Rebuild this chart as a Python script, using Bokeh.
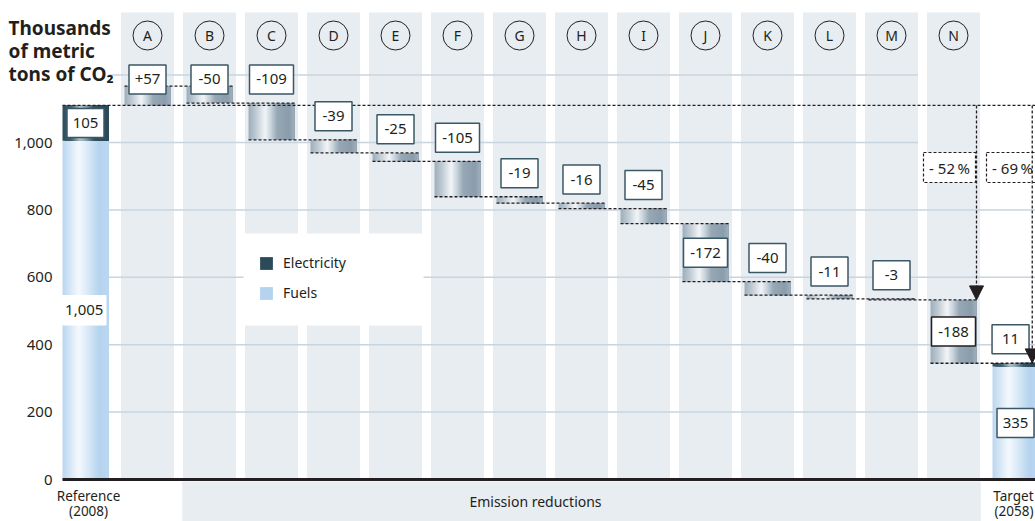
import numpy as np
from bokeh.plotting import figure
from bokeh.models import (Range1d, ColumnDataSource, Arrow, NormalHead,
                          Legend, LegendItem)
from bokeh.core.properties import value
from bokeh.embed import file_html
from bokeh.resources import INLINE

# ---- data: thousands of metric tons of CO2 ----
ref_electricity = 105
ref_fuels = 1005
step_names = ["A", "B", "C", "D", "E", "F", "G", "H", "I", "J", "K", "L", "M", "N"]
step_values = [57, -50, -109, -39, -25, -105, -19, -16, -45, -172, -40, -11, -3, -188]
target_electricity = 11
target_fuels = 335
y_ticks = [0, 200, 400, 600, 800, 1000]
grid_levels = [200, 400, 600, 800, 1000, 1200]
ref_caption = ["Reference", "(2008)"]
target_caption = ["Target", "(2058)"]
band_caption = "Emission reductions"
legend_names = ["Electricity", "Fuels"]

# ---- layout / style ----
W, H = 1035, 521
COL_PX = 62.0          # pixels per column
X0_PX = 85.0           # pixel centre of the reference column
Y0_PX = 479.0          # pixel of the zero line
PX_PER_UNIT = 0.337
FONT = value("Noto Sans")
INK = "#231f20"
COL_BG = "#e8edf2"
GRID = "#c8d4df"
BOX_LINE = "#3a5766"
BAR_W = 46 / COL_PX
COL_W = 53 / COL_PX


def px_x(px):
    return (px - X0_PX) / COL_PX


def px_y(py):
    return (Y0_PX - py) / PX_PER_UNIT


p = figure(width=W, height=H, output_backend="svg", toolbar_location=None,
           x_range=Range1d(px_x(0), px_x(W)), y_range=Range1d(px_y(H), px_y(0)),
           x_axis_location=None, y_axis_location=None, min_border=0,
           outline_line_color=None, background_fill_color="white",
           border_fill_color="white")
p.grid.visible = False

# ---- derived values ----
ref_total = ref_electricity + ref_fuels
levels = [ref_total]
for v in step_values:
    levels.append(levels[-1] + v)
starts, ends = levels[:-1], levels[1:]
n_steps = len(step_values)
step_x = list(range(1, n_steps + 1))
target_x = n_steps + 1
target_total = target_fuels + target_electricity

# ---- column backgrounds ----
col_top = px_y(12)
p.quad(left=[x - COL_W / 2 for x in step_x], right=[x + COL_W / 2 for x in step_x],
       bottom=0, top=col_top, fill_color=COL_BG, line_color=None)

# band under the axis for the reduction steps
p.quad(left=[step_x[1] - 0.44], right=[step_x[-1] + 0.44], bottom=[px_y(H + 5)],
       top=[px_y(481)], fill_color=COL_BG, line_color=None)

# ---- grid lines ----
grid_x0 = BAR_W / 2
grid_x1 = [px_x(W + 5) if g <= 800 else step_x[-2] + COL_W / 2 for g in grid_levels]
p.segment(x0=[grid_x0] * len(grid_levels), x1=grid_x1, y0=grid_levels, y1=grid_levels,
          line_color=GRID, line_width=1.5)

# white patch behind the legend
p.quad(left=[px_x(243)], right=[px_x(423)], bottom=[px_y(325)], top=[px_y(233)],
       fill_color="white", line_color=None)


# ---- bars with a horizontal shading, built from overlapping strips ----
def hex_to_rgb(h):
    h = h.lstrip("#")
    return np.array([int(h[i:i + 2], 16) for i in (0, 2, 4)], dtype=float)


def shade(stops, t):
    pos = [s[0] for s in stops]
    cols = np.array([hex_to_rgb(s[1]) for s in stops])
    rgb = [np.interp(t, pos, cols[:, k]) for k in range(3)]
    return "#%02x%02x%02x" % tuple(int(round(c)) for c in rgb)


STEP_STOPS = [(0.0, "#9cadb9"), (0.18, "#c3ced6"), (0.36, "#f3f6f8"), (0.5, "#c4cfd7"),
              (0.62, "#97a9b6"), (0.88, "#8a9cab"), (1.0, "#a0b0bc")]
FUEL_STOPS = [(0.0, "#b9d6ef"), (0.35, "#f5f9fd"), (0.6, "#d2e5f5"), (0.8, "#b4d3ee"),
              (1.0, "#bad7f0")]
ELEC_STOPS = [(0.0, "#2d4d5d"), (0.2, "#44636f"), (0.38, "#b3c3cc"), (0.5, "#8aa0ab"),
              (0.68, "#33525f"), (1.0, "#2a4959")]
N_STRIPS = 23


def new_strips():
    return dict(left=[], right=[], bottom=[], top=[], color=[])


def add_bar(store, cx, bottom, top, stops):
    # each strip runs to the bar's right edge; later strips paint over earlier ones
    right = cx + BAR_W / 2
    for k in range(N_STRIPS):
        store["left"].append(cx - BAR_W / 2 + k * BAR_W / N_STRIPS)
        store["right"].append(right)
        store["bottom"].append(bottom)
        store["top"].append(top)
        store["color"].append(shade(stops, (k + 0.5) / N_STRIPS))


fuel_strips, elec_strips, step_strips = new_strips(), new_strips(), new_strips()
add_bar(fuel_strips, 0, 0, ref_fuels, FUEL_STOPS)
add_bar(fuel_strips, target_x, 0, target_fuels, FUEL_STOPS)
add_bar(elec_strips, 0, ref_fuels, ref_total, ELEC_STOPS)
add_bar(elec_strips, target_x, target_fuels, target_total, ELEC_STOPS)
for x, s, e in zip(step_x, starts, ends):
    add_bar(step_strips, x, min(s, e), max(s, e), STEP_STOPS)

bar_kw = dict(left="left", right="right", bottom="bottom", top="top",
              fill_color="color", line_color=None)
r_fuel = p.quad(source=ColumnDataSource(fuel_strips), **bar_kw)
r_elec = p.quad(source=ColumnDataSource(elec_strips), **bar_kw)
p.quad(source=ColumnDataSource(step_strips), **bar_kw)

# ---- dashed connectors ----
con_x0 = [-BAR_W / 2] + [x - BAR_W / 2 for x in step_x]
con_x1 = [px_x(W + 5)] + [x + 1 + BAR_W / 2 for x in step_x]
con_y = [ref_total] + ends
p.segment(x0=con_x0, x1=con_x1, y0=con_y, y1=con_y, line_color=INK,
          line_width=1.3, line_dash="3 2")

# ---- zero line ----
p.segment(x0=[-BAR_W / 2], x1=[px_x(W + 5)], y0=[0], y1=[0], line_color=INK, line_width=3)

# ---- arrows to the intermediate and final levels ----
mid_level = starts[-1]
arrow_head = dict(size=14, fill_color=INK, line_color=INK, line_width=1)
p.add_layout(Arrow(end=NormalHead(**arrow_head), x_start=step_x[-1] + BAR_W / 2,
                   y_start=ref_total, x_end=step_x[-1] + BAR_W / 2, y_end=mid_level,
                   line_color=INK, line_width=1.3, line_dash="3 2"))
p.add_layout(Arrow(end=NormalHead(**arrow_head), x_start=target_x + 0.27,
                   y_start=ref_total, x_end=target_x + 0.27, y_end=target_total,
                   line_color=INK, line_width=1.3, line_dash="3 2"))

# ---- value boxes ----
LABEL_LIFT = 70
LABEL_CEIL = 1187
INSIDE_MIN = 150
lab = dict(x=[], y=[], text=[], w=[], line=[])


def add_label(x, y, text, line=BOX_LINE, w=None):
    lab["x"].append(x)
    lab["y"].append(y)
    lab["text"].append(text)
    lab["w"].append(w if w is not None else (44 if len(text) >= 4 else 37))
    lab["line"].append(line)


add_label(0, (ref_fuels + ref_total) / 2, f"{ref_electricity:,}")
add_label(-0.02, ref_fuels / 2, f"{ref_fuels:,}", line="white", w=43)
for i, (x, s, e, v) in enumerate(zip(step_x, starts, ends, step_values)):
    top, bot = max(s, e), min(s, e)
    if abs(v) >= INSIDE_MIN:
        y = (top + bot) / 2
    else:
        y = min(top + LABEL_LIFT, LABEL_CEIL)
    add_label(x, y, f"{v:+d}", line=INK if i == n_steps - 1 else BOX_LINE)
add_label(target_x - 0.08, target_total + LABEL_LIFT, f"{target_electricity:,}")
add_label(target_x, target_fuels / 2, f"{target_fuels:,}")

lab_src = ColumnDataSource(lab)
p.rect(x="x", y="y", width="w", height=29, width_units="screen", height_units="screen",
       fill_color="white", line_color="line", line_width=1.5, source=lab_src)
p.text(x="x", y="y", text="text", source=lab_src, text_font=FONT, text_font_size="15px",
       text_align="center", text_baseline="middle", text_color=INK)

# ---- percentage boxes ----
pct_mid = round(100 * (1 - mid_level / ref_total))
pct_target = round(100 * (1 - target_total / ref_total))
pct_src = ColumnDataSource(dict(x=[px_x(949), px_x(1012)], y=[px_y(167)] * 2,
                                text=[f"- {pct_mid}\u2009%", f"- {pct_target}\u2009%"]))
p.rect(x="x", y="y", width=52, height=30, width_units="screen", height_units="screen",
       fill_color="white", line_color=INK, line_width=1.2, line_dash="3 2", source=pct_src)
p.text(x="x", y="y", text="text", source=pct_src, text_font=FONT, text_font_size="15px",
       text_align="center", text_baseline="middle", text_color=INK)

# ---- lettered circles above the steps ----
circ_y = px_y(35)
p.scatter(x=step_x, y=[circ_y] * n_steps, marker="circle", size=29, fill_color=None,
          line_color=INK, line_width=1)
p.text(x=step_x, y=[circ_y] * n_steps, text=step_names, text_font=FONT,
       text_font_size="14px", text_align="center", text_baseline="middle", text_color=INK)

# ---- y tick labels ----
p.text(x=[px_x(52)] * len(y_ticks), y=y_ticks, text=[f"{t:,}" for t in y_ticks],
       text_font=FONT, text_font_size="15px", text_align="right",
       text_baseline="middle", text_color=INK)

# ---- axis title ----
p.text(x=[px_x(8)] * 3, y=[px_y(27), px_y(50), px_y(73)],
       text=["Thousands", "of metric", "tons of CO\u2082"], text_font=FONT,
       text_font_size="19px", text_font_style="bold", text_align="left",
       text_baseline="alphabetic", text_color=INK)

# ---- captions under the axis ----
cap_y = [px_y(495), px_y(510)]
p.text(x=[0.05, 0.05], y=cap_y, text=ref_caption, text_font=FONT,
       text_font_size="13.5px", text_align="center", text_baseline="middle",
       text_color=INK)
p.text(x=[px_x(1033)] * 2, y=cap_y, text=target_caption, text_font=FONT,
       text_font_size="13.5px", text_align="right", text_baseline="middle",
       text_color=INK)
p.text(x=[px_x(535)], y=[px_y(501)], text=[band_caption], text_font=FONT,
       text_font_size="14px", text_align="center", text_baseline="middle", text_color=INK)

# ---- legend (swatches taken from the bar renderers' darkest / mid strips) ----
legend = Legend(items=[LegendItem(label=legend_names[0], renderers=[r_elec],
                                  index=N_STRIPS - 2),
                       LegendItem(label=legend_names[1], renderers=[r_fuel],
                                  index=int(0.8 * N_STRIPS))],
                location=(258, 219), orientation="vertical", padding=0, margin=0,
                spacing=11, glyph_width=16, glyph_height=16, label_height=16,
                label_standoff=9, label_text_font="Noto Sans",
                label_text_font_size="14px", label_text_color=INK,
                background_fill_alpha=0, border_line_color=None)
p.add_layout(legend)

open("out.html", "w").write(file_html(p, INLINE))
